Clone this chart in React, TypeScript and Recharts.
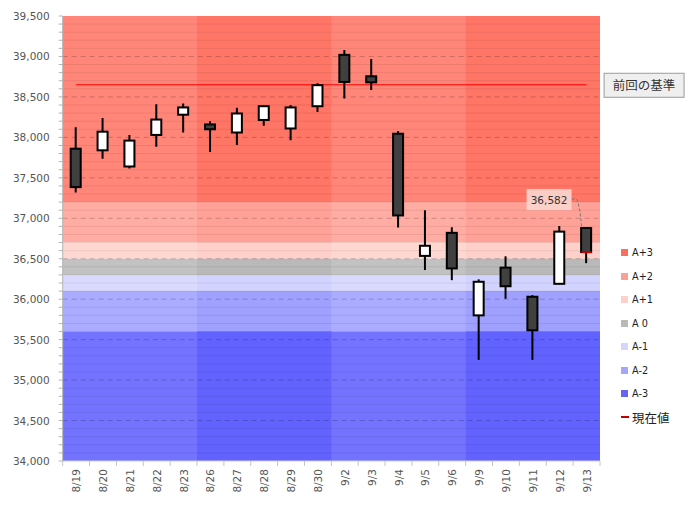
import React from "react";
import { ComposedChart, Bar, XAxis, YAxis, ReferenceArea, ReferenceLine, ReferenceDot } from "recharts";

// trading days
const DATES = ["8/19", "8/20", "8/21", "8/22", "8/23", "8/26", "8/27", "8/28", "8/29", "8/30", "9/2", "9/3", "9/4", "9/5", "9/6", "9/9", "9/10", "9/11", "9/12", "9/13"];
const OPEN = [37860, 37840, 37640, 38030, 38280, 38160, 38060, 38215, 38110, 38385, 39020, 38755, 38045, 36535, 36820, 35800, 36390, 36030, 36190, 36880];
const HIGH = [38125, 38240, 38030, 38410, 38420, 38200, 38365, 38400, 38400, 38670, 39080, 38970, 38080, 37100, 36890, 36245, 36530, 36050, 36905, 36885];
const LOW = [37320, 37735, 37615, 37885, 38060, 37820, 37905, 38145, 37965, 38315, 38480, 38585, 36885, 36360, 36235, 35250, 36005, 35250, 36185, 36445];
const CLOSE = [37385, 38070, 37960, 38220, 38370, 38100, 38295, 38385, 38370, 38645, 38685, 38680, 37035, 36660, 36380, 36215, 36160, 35615, 36835, 36582];

// zones
const BAND_NAMES = ["A+3", "A+2", "A+1", "A 0", "A-1", "A-2", "A-3"];
const BAND_TOP = [39500, 37200, 36700, 36500, 36300, 36100, 35600];
const BAND_BOTTOM = [37200, 36700, 36500, 36300, 36100, 35600, 34000];

// weeks with darker shading (first, last day)
const SHADED_WEEKS = [
    ["8/26", "8/30"],
    ["9/9", "9/13"],
];

const MAJOR_TICKS = [34000, 34500, 35000, 35500, 36000, 36500, 37000, 37500, 38000, 38500, 39000, 39500];
const MINOR_STEPS = [100, 200, 300, 400];

const PREV_BASE = 38650;
const CURRENT = 36582;

const BAND_LIGHT = ["#ff8679", "#ffaca3", "#ffd7d1", "#c2c2c2", "#dadaff", "#ababff", "#7373ff"];
const BAND_DARK = ["#ff7566", "#ffa197", "#ffd0ca", "#b9b9b9", "#d3d3ff", "#a0a0ff", "#6262ff"];
const SWATCH = ["#f86f60", "#f9a197", "#fcd2cb", "#b9b9b9", "#d6d6f9", "#a6a6f6", "#6666f0"];

const FONT = "'DejaVu Sans', Verdana, sans-serif";
const JP_FONT = "'Noto Sans CJK JP', sans-serif";

const rows = DATES.map((date, i) => ({
    date,
    open: OPEN[i],
    high: HIGH[i],
    low: LOW[i],
    close: CLOSE[i],
}));

const minorTicks = MAJOR_TICKS.slice(0, -1).flatMap((t) => MINOR_STEPS.map((s) => t + s));
const allTicks = [...MAJOR_TICKS, ...minorTicks].sort((a, b) => a - b);

function Candle(props: any) {
    const { x, y, width, height, payload } = props;
    const { open, close, high, low } = payload;
    const yTop = Math.min(y, y + height);
    const h = Math.abs(height);
    const px = (v: number) => yTop + ((high - v) / (high - low)) * h;
    const cx = x + width / 2;
    const bodyTop = px(Math.max(open, close));
    const bodyBottom = px(Math.min(open, close));
    const up = close >= open;
    return (
        <g>
            <line x1={cx} x2={cx} y1={yTop} y2={yTop + h} stroke="#000" strokeWidth={2} />
            <rect
                x={x + 1}
                y={bodyTop}
                width={width - 2}
                height={Math.max(bodyBottom - bodyTop, 1)}
                fill={up ? "#ffffff" : "#404040"}
                stroke="#000"
                strokeWidth={2}
            />
        </g>
    );
}

function PriceTick(props: any) {
    const { x, y, payload } = props;
    if (payload.value % 500 !== 0) return null;
    return (
        <text x={x} y={y} dy={4} textAnchor="end" fontSize={10.5} fontFamily={FONT} fill="#555">
            {payload.value.toLocaleString("en-US")}
        </text>
    );
}

function DateTick(props: any) {
    const { x, y, payload } = props;
    const half = payload.offset || 13.43;
    const axisY = y - 8;
    const isLast = payload.value === DATES[DATES.length - 1];
    return (
        <g>
            <line x1={x - half} x2={x - half} y1={axisY} y2={axisY + 5} stroke="#c4c4c4" />
            {isLast && <line x1={x + half} x2={x + half} y1={axisY} y2={axisY + 5} stroke="#c4c4c4" />}
            <text
                x={x}
                y={y}
                dy={4}
                textAnchor="end"
                transform={`rotate(-90, ${x}, ${y})`}
                fontSize={10.5}
                fontFamily={FONT}
                fill="#555"
            >
                {payload.value}
            </text>
        </g>
    );
}

// "前回の基準" box to the right of the reference line
function BaseLabel(props: any) {
    const { cx, cy } = props;
    return (
        <g>
            <rect x={cx + 17.5} y={cy - 11.5} width={80} height={24} fill="#efefef" stroke="#9a9a9a" strokeWidth={1} />
            <text x={cx + 57.5} y={cy + 5} textAnchor="middle" fontSize={12.5} fontFamily={JP_FONT} fill="#333">
                前回の基準
            </text>
        </g>
    );
}

// current value marker + callout
function CurrentMarker(props: any) {
    const { cx, cy } = props;
    return (
        <g>
            <line x1={cx - 5} x2={cx + 5} y1={cy} y2={cy} stroke="#d00000" strokeWidth={2} />
            <path
                d={`M ${cx - 15} ${cy - 53} L ${cx - 10} ${cy - 53} Q ${cx - 7} ${cy - 48} ${cx - 5} ${cy - 26}`}
                fill="none"
                stroke="#777"
                strokeDasharray="3 2"
            />
            <rect x={cx - 60} y={cy - 63} width={45} height={21} fill="#fad6cf" fillOpacity={0.9} />
            <text x={cx - 37.5} y={cy - 48.5} textAnchor="middle" fontSize={10.5} fontFamily={FONT} fill="#333">
                {CURRENT.toLocaleString("en-US")}
            </text>
        </g>
    );
}

const LEGEND_ITEMS = [...BAND_NAMES, "現在値"];

export default function App() {
    return (
        <div style={{ position: "absolute", left: 0, top: 0, width: 693, height: 507, background: "#fff" }}>
            <ComposedChart width={693} height={507} data={rows} margin={{ top: 16, right: 93, bottom: 0, left: 0 }}>
                <XAxis
                    dataKey="date"
                    interval={0}
                    height={46}
                    tickSize={0}
                    tickMargin={8}
                    axisLine={{ stroke: "#d0d0d0" }}
                    tickLine={false}
                    tick={<DateTick />}
                />
                <YAxis
                    type="number"
                    domain={[34000, 39500]}
                    ticks={allTicks}
                    interval={0}
                    width={62.7}
                    tickSize={4}
                    tickMargin={9}
                    allowDataOverflow
                    axisLine={{ stroke: "#b4b4b4" }}
                    tickLine={{ stroke: "#b4b4b4" }}
                    tick={<PriceTick />}
                />

                {/* zone bands */}
                {BAND_NAMES.map((name, i) => (
                    <ReferenceArea
                        key={name}
                        y1={BAND_BOTTOM[i]}
                        y2={BAND_TOP[i]}
                        fill={BAND_LIGHT[i]}
                        fillOpacity={1}
                        strokeWidth={0}
                        zIndex={10}
                    />
                ))}
                {SHADED_WEEKS.flatMap(([from, to]) =>
                    BAND_NAMES.map((name, i) => (
                        <ReferenceArea
                            key={`${from}-${name}`}
                            x1={from}
                            x2={to}
                            y1={BAND_BOTTOM[i]}
                            y2={BAND_TOP[i]}
                            fill={BAND_DARK[i]}
                            fillOpacity={1}
                            strokeWidth={0}
                            zIndex={11}
                        />
                    ))
                )}

                {/* grid */}
                {minorTicks.map((v) => (
                    <ReferenceLine key={`m${v}`} y={v} stroke="#000" strokeOpacity={0.07} zIndex={20} />
                ))}
                {MAJOR_TICKS.slice(1, -1).map((v) => (
                    <ReferenceLine
                        key={`M${v}`}
                        y={v}
                        stroke="#000"
                        strokeOpacity={0.2}
                        strokeDasharray="5 4"
                        zIndex={21}
                    />
                ))}

                <ReferenceLine
                    segment={[
                        { x: DATES[0], y: PREV_BASE },
                        { x: DATES[DATES.length - 1], y: PREV_BASE },
                    ]}
                    stroke="#ff0000"
                    strokeWidth={1}
                    zIndex={30}
                />

                <Bar
                    dataKey={(d: any) => [d.low, d.high]}
                    barSize={12}
                    shape={<Candle />}
                    isAnimationActive={false}
                    zIndex={300}
                />

                <ReferenceDot
                    x={DATES[DATES.length - 1]}
                    y={PREV_BASE}
                    r={0}
                    shape={(p: any) => <BaseLabel {...p} />}
                    zIndex={2000}
                />
                <ReferenceDot
                    x={DATES[DATES.length - 1]}
                    y={CURRENT}
                    r={0}
                    shape={(p: any) => <CurrentMarker {...p} />}
                    zIndex={2000}
                />
            </ComposedChart>

            {/* legend */}
            <div style={{ position: "absolute", left: 621, top: 244 }}>
                {LEGEND_ITEMS.map((name, i) => {
                    const isCurrent = i === BAND_NAMES.length;
                    return (
                        <div
                            key={name}
                            style={{ position: "absolute", top: i * 23.5, left: 0, height: 17, display: "flex", alignItems: "center", whiteSpace: "nowrap" }}
                        >
                            {isCurrent ? (
                                <div style={{ width: 8, height: 2.5, background: "#c00000", marginRight: 3 }} />
                            ) : (
                                <div style={{ width: 7, height: 7, background: SWATCH[i], marginRight: 4 }} />
                            )}
                            <span
                                style={{
                                    fontFamily: isCurrent ? JP_FONT : FONT,
                                    fontSize: isCurrent ? 12.5 : 9.7,
                                    color: "#222",
                                }}
                            >
                                {name}
                            </span>
                        </div>
                    );
                })}
            </div>
        </div>
    );
}
